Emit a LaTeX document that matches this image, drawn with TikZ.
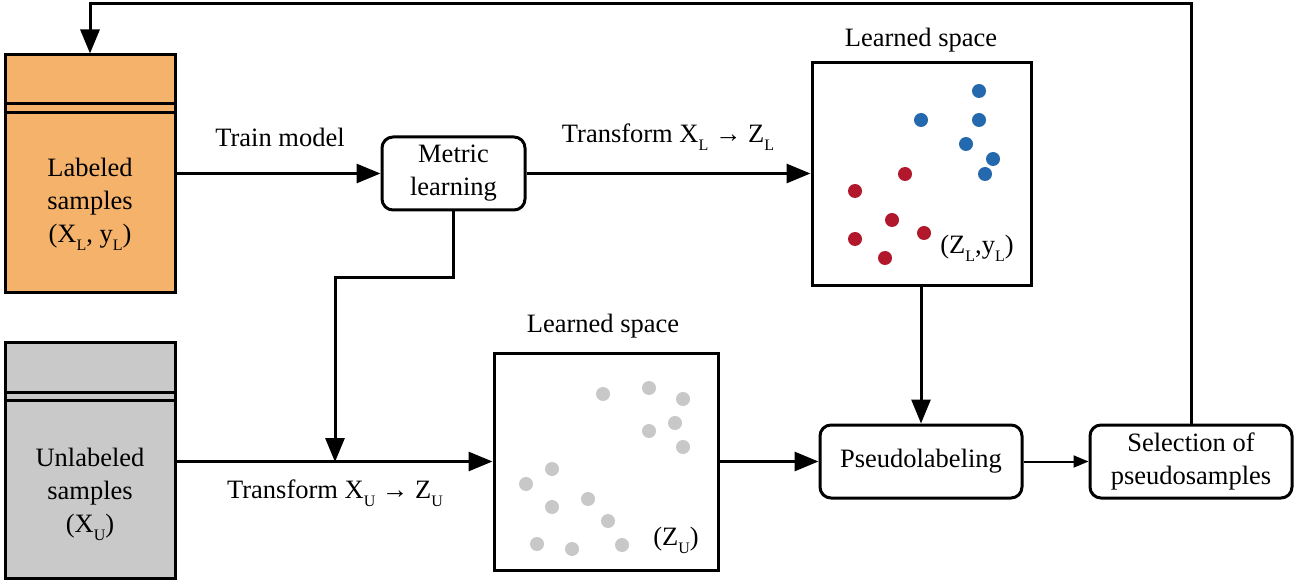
\documentclass[tikz,border=0pt]{standalone}
\usepackage{fontspec}
\setmainfont{Liberation Serif}
\newfontfamily\tnr{Liberation Serif}
\usetikzlibrary{arrows.meta}
\definecolor{orangebox}{RGB}{245,178,107}
\definecolor{graybox}{RGB}{201,201,201}
\definecolor{bluedot}{RGB}{36,104,174}
\definecolor{reddot}{RGB}{178,24,43}
\definecolor{graydot}{RGB}{200,200,200}
\newcommand\lo[1]{\raisebox{-0.3em}{\fontsize{16}{16}\selectfont #1}}
\tikzset{
  txt/.style={font=\tnr\fontsize{26.5}{33}\selectfont, align=center},
  box/.style={draw, line width=3pt, inner sep=0pt, txt},
  rbox/.style={box, rounded corners=11pt, fill=white},
  spacebox/.style={draw, line width=3pt, inner sep=0pt, fill=white},
  arr/.style={line width=3pt, -{Triangle[length=24pt,width=19pt]}},
  thinarr/.style={line width=2pt, -{Triangle[length=15pt,width=12pt]}},
  ln/.style={line width=3pt},
  bd/.style={fill=bluedot},
  rd/.style={fill=reddot},
  gd/.style={fill=graydot},
}
\begin{document}
\begin{tikzpicture}[x=1pt,y=-1pt]
\useasboundingbox (0,0) rectangle (1304,585);

% data boxes
\node[box, fill=orangebox, minimum width=170pt, minimum height=238pt] (lab) at (90,174) {};
\draw[ln] (lab.west |- 0,103.5) -- (lab.east |- 0,103.5);
\draw[ln] (lab.west |- 0,113) -- (lab.east |- 0,113);
\node[txt] (labt) at (90,204) {Labeled\\samples\\(X\lo{L}, y\lo{L})};

\node[box, fill=graybox, minimum width=170pt, minimum height=235pt] (unl) at (90,460.5) {};
\draw[ln] (unl.west |- 0,392) -- (unl.east |- 0,392);
\draw[ln] (unl.west |- 0,400) -- (unl.east |- 0,400);
\node[txt] (unlt) at (90,494) {Unlabeled\\samples\\(X\lo{U})};

% process boxes
\node[rbox, minimum width=143pt, minimum height=73pt] (metric) at (453.5,173.5) {Metric\\learning};
\node[rbox, minimum width=202pt, minimum height=73pt] (pseudo) at (921,461.5) {Pseudolabeling};
\node[rbox, minimum width=202pt, minimum height=73pt] (select) at (1191,461.5) {Selection of\\pseudosamples};

% learned spaces
\node[spacebox, minimum width=219pt, minimum height=223pt] (spaceL) at (921.5,174.5) {};
\node[txt] (titleL) at (921,40) {Learned space};
\node[spacebox, minimum width=224pt, minimum height=217pt] (spaceU) at (606,461.5) {};
\node[txt] (titleU) at (603,326) {Learned space};

% dots in labeled space
\foreach \x/\y in {979/91,921/120,979/120,966/144,993/159,985/174}
  \fill[bd] (\x,\y) circle (7pt);
\foreach \x/\y in {905/174,855/191,892/220,855/239,924/233,885/258}
  \fill[rd] (\x,\y) circle (7pt);
\node[txt] (zl) at (977,248) {(Z\lo{L},y\lo{L})};

% dots in unlabeled space
\foreach \x/\y in {603/394,649/388,683/399,675/423,649/431,683/447,552/469,526/484,552/507,588/499,608/521,537/544,572/549,622/545}
  \fill[gd] (\x,\y) circle (7pt);
\node[txt] (zu) at (676,540) {(Z\lo{U})};

% connectors
\draw[arr] (lab.east |- metric.west) -- (metric.west);
\node[txt] (trainlbl) at (280,137) {Train model};
\draw[arr] (metric.east) -- (metric.east -| spaceL.west);
\node[txt] (tl) at (668,137) {Transform X\lo{L} → Z\lo{L}};

\draw[arr] (unl.east |- spaceU.west) -- (spaceU.west);
\node[txt] (tu) at (335,493) {Transform X\lo{U} → Z\lo{U}};

\coordinate (bend) at (335,278);
\coordinate (join) at (335,462);
\draw[arr] (metric.south) |- (bend) -- (join);

\draw[arr] (spaceU.east) -- (spaceU.east -| pseudo.west);
\draw[arr] (spaceL.south -| pseudo.north) -- (pseudo.north);
\draw[thinarr] (pseudo.east) -- (select.west);

\coordinate (topline) at (0,4);
\draw[arr] (select.north) -- (select.north |- topline) -| (lab.north);
\end{tikzpicture}
\end{document}
